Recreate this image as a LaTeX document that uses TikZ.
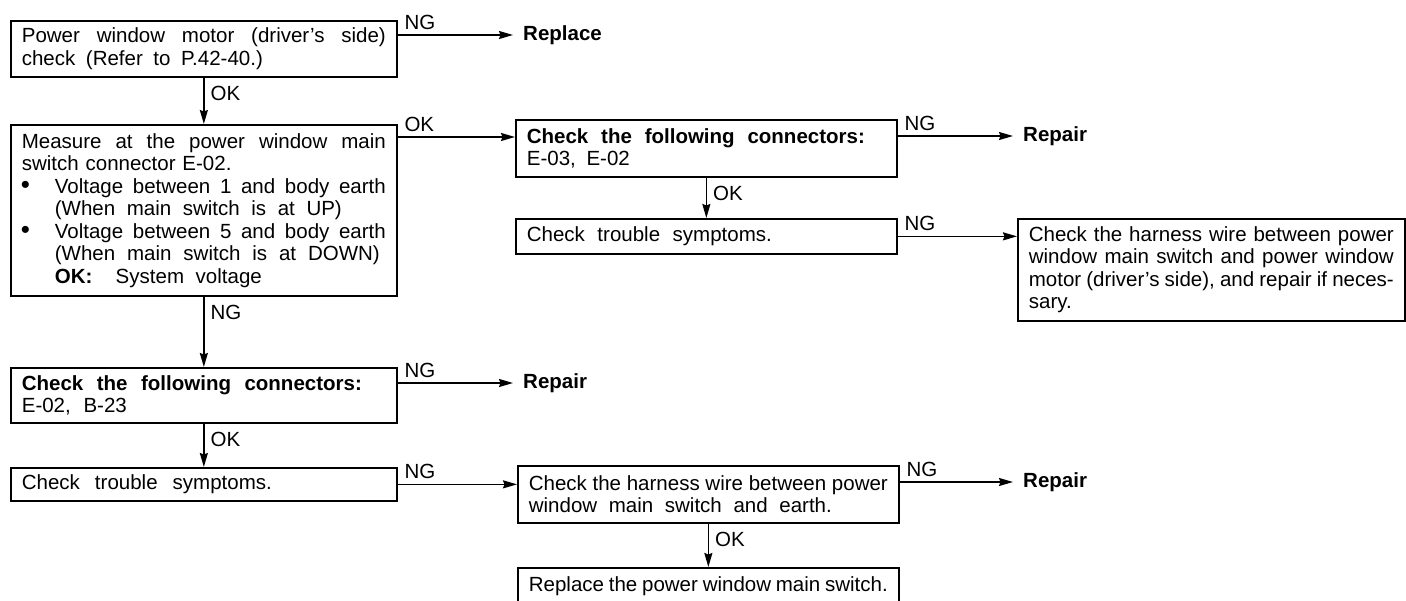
\documentclass[tikz,border=0pt]{standalone}
\usepackage{fontspec}
\setmainfont{Liberation Sans}
\usetikzlibrary{arrows.meta}
\newcommand\wl[2]{\makebox[#1][s]{\spaceskip=0.278em plus 1fil minus 0.09em\relax #2}}
\newcommand\jl[1]{\wl{\linewidth}{#1}}
\newcommand\bigbul{\makebox[33pt][l]{\hspace*{-1pt}\raisebox{0pt}[0pt][0pt]{\fontsize{26}{22.5}\selectfont•}}}
\newcommand\bl[1]{\bigbul\wl{\dimexpr\linewidth-33pt\relax}{#1}}
\begin{document}
\begin{tikzpicture}[x=1pt,y=-1pt,
  box/.style={draw, line width=1.7pt, rectangle, anchor=north west, inner xsep=11pt, inner ysep=0pt,
    font=\fontsize{20.5}{22.5}\selectfont, align=left},
  lbl/.style={font=\fontsize{20.5}{20.5}\selectfont, inner sep=0pt},
  term/.style={font=\bfseries\fontsize{20.5}{22.5}\selectfont, inner xsep=10pt, inner ysep=0pt, anchor=west},
  arr/.style={line width=1.6pt, -{Stealth[length=14pt,width=8pt,inset=1.5pt]}},
  ngup/.style={lbl, anchor=south west, xshift=6pt, yshift=5pt},
  okdn/.style={lbl, anchor=north west, xshift=6pt, yshift=-8pt}
  ]
\useasboundingbox (0,0) rectangle (1406,600);

\node[box, minimum width=386pt, text width=364pt, minimum height=56pt] (b1) at (10,20)
  {\jl{Power window motor (driver’s side)}\\ \wl{241pt}{check (Refer to P.42-40.)}};

\node[box, minimum width=386pt, text width=364pt, minimum height=171pt] (b2) at (10,124)
  {\jl{Measure at the power window main}\\
   switch connector E-02.\\
   \bl{Voltage between 1 and body earth}\\
   \hspace*{33pt}\wl{287pt}{(When main switch is at UP)}\\
   \bl{Voltage between 5 and body earth}\\
   \hspace*{33pt}\wl{325pt}{(When main switch is at DOWN)}\\
   \hspace*{33pt}\wl{207pt}{\textbf{OK:}\ \ System voltage}};

\node[box, minimum width=381pt, text width=359pt, minimum height=57pt] (b3) at (515,119)
  {\wl{338pt}{\textbf{Check the following connectors:}}\\ \wl{103pt}{E-03, E-02}};

\node[box, minimum width=381pt, text width=359pt, minimum height=35pt] (b4) at (515,218)
  {\wl{245pt}{Check trouble symptoms.}};

\node[box, minimum width=387pt, text width=365pt, minimum height=102pt] (b5) at (1017,218)
  {\jl{Check the harness wire between power}\\
   \jl{window main switch and power window}\\
   \jl{motor (driver’s side), and repair if neces-}\\
   sary.};

\node[box, minimum width=386pt, text width=364pt, minimum height=55pt] (b6) at (10,367)
  {\wl{340pt}{\textbf{Check the following connectors:}}\\ \wl{105pt}{E-02, B-23}};

\node[box, minimum width=386pt, text width=364pt, minimum height=33pt] (b7) at (10,467)
  {\wl{250pt}{Check trouble symptoms.}};

\node[box, minimum width=381pt, text width=359pt, minimum height=57pt] (b8) at (517,465)
  {\jl{Check the harness wire between power}\\ \wl{303pt}{window main switch and earth.}};

\node[box, minimum width=381pt, text width=359pt, minimum height=36pt] (b9) at (517,567)
  {\jl{Replace the power window main switch.}};

\node[term] (r1) at (513,35) {Replace};
\node[term] (r2) at (1013,136) {Repair};
\node[term] (r3) at (513,383) {Repair};
\node[term] (r4) at (1013,482) {Repair};

\coordinate (c23) at ([yshift=-18pt]b3.north west);

\draw[arr] (b1.east |- r1) node[ngup] (l1) {NG} -- (r1.west);
\draw[arr] (b1.south) node[okdn] (l2) {OK} -- (b2.north);
\draw[arr] (b2.east |- c23) node[ngup] (l3) {OK} -- (c23);
\draw[arr] (b3.east |- r2) node[ngup] (l4) {NG} -- (r2.west);
\draw[arr] (b3.south) node[okdn] (l5) {OK} -- (b4.north);
\draw[arr] (b4.east) node[ngup] (l6) {NG} -- (b4.east -| b5.west);
\draw[arr] (b2.south) node[okdn] (l7) {NG} -- (b6.north);
\draw[arr] (b6.east |- r3) node[ngup] (l8) {NG} -- (r3.west);
\draw[arr] (b6.south) node[okdn] (l9) {OK} -- (b7.north);
\draw[arr] (b7.east) node[ngup] (l10) {NG} -- (b7.east -| b8.west);
\draw[arr] (b8.east |- r4) node[ngup] (l11) {NG} -- (r4.west);
\draw[arr] (b8.south) node[okdn] (l12) {OK} -- (b9.north);
\end{tikzpicture}
\end{document}
